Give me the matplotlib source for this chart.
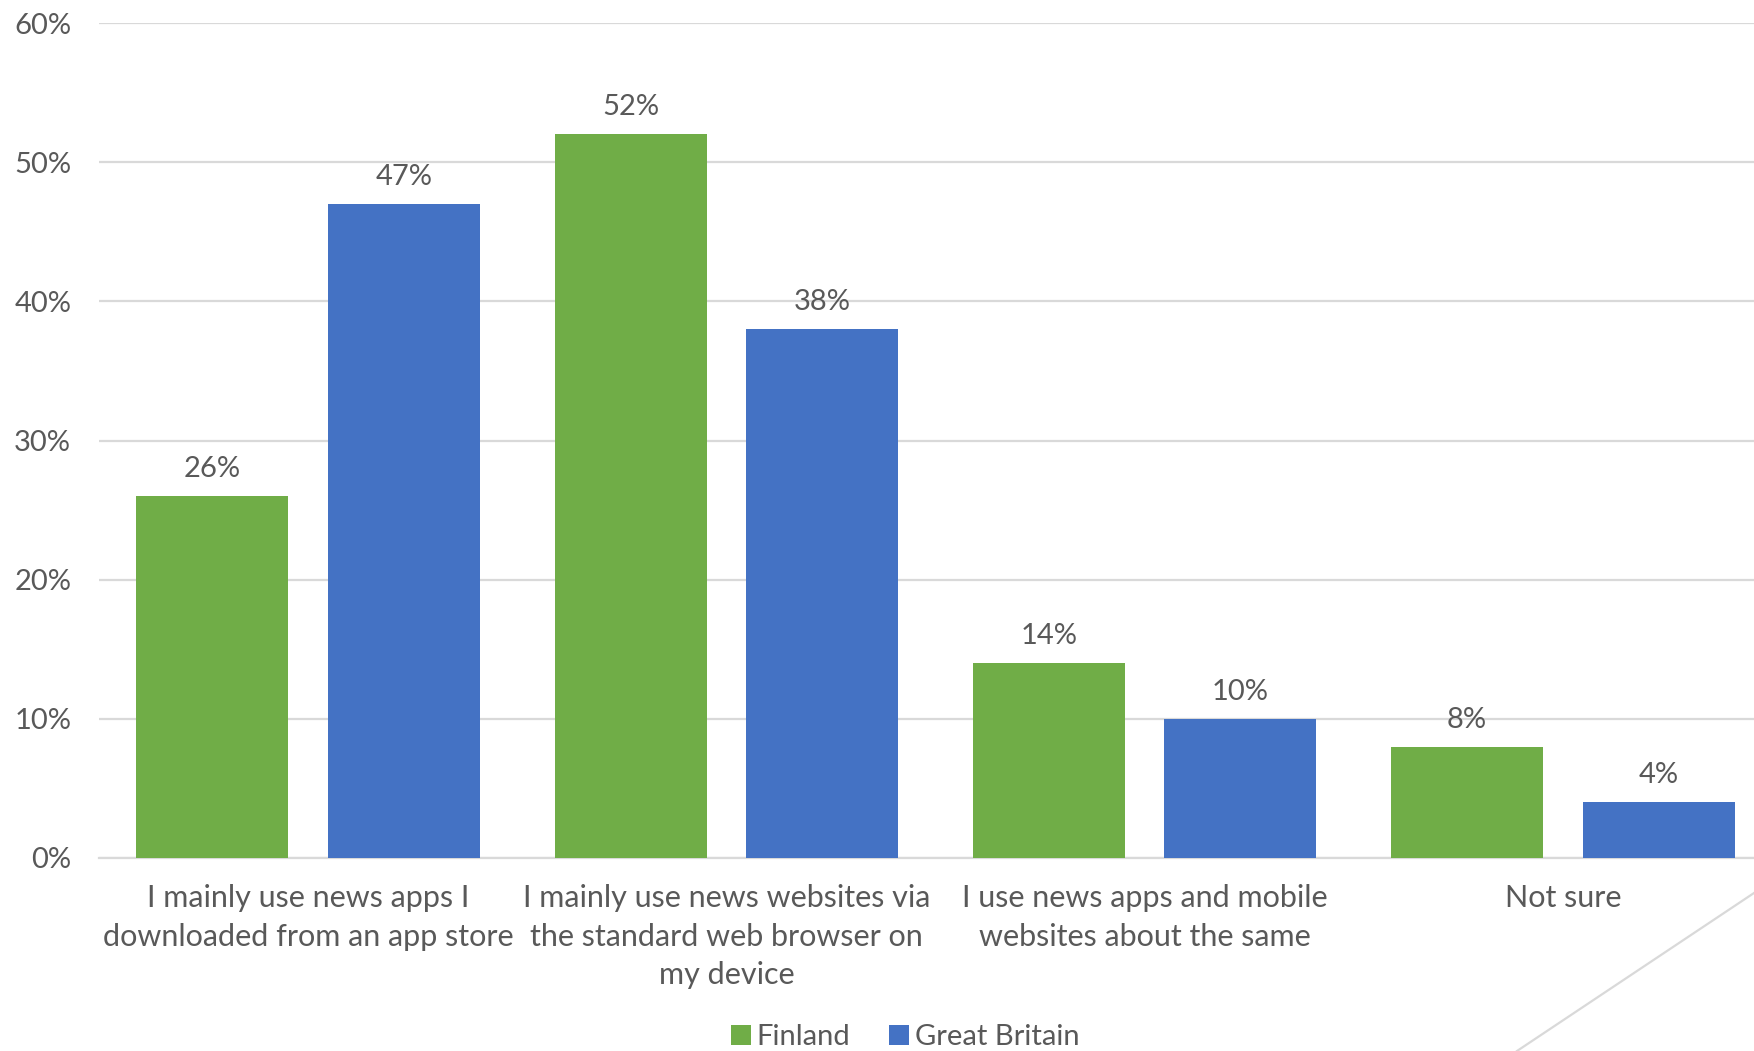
import matplotlib
matplotlib.use("Agg")
import matplotlib.pyplot as plt
from matplotlib.lines import Line2D
from matplotlib.patches import Patch
import numpy as np

categories = [
    "I mainly use news apps I\ndownloaded from an app store",
    "I mainly use news websites via\nthe standard web browser on\nmy device",
    "I use news apps and mobile\nwebsites about the same",
    "Not sure",
]
series_names = ["Finland", "Great Britain"]
finland = [26, 52, 14, 8]
great_britain = [47, 38, 10, 4]
y_ticks = [0, 10, 20, 30, 40, 50, 60]

GREEN = "#70AD47"
BLUE = "#4472C4"
TEXT = "#595959"
GRID = "#D9D9D9"

plt.rcParams["font.family"] = ["Lato", "DejaVu Sans"]

fig = plt.figure(figsize=(17.54, 10.51), dpi=100)
# plot area runs slightly past the right edge of the canvas
ax = fig.add_axes([99 / 1754, 1 - 858 / 1051, (1772 - 99) / 1754, (858 - 23) / 1051])

x = np.arange(len(categories))
width = 0.3636
offset = 0.229

bars_f = ax.bar(x - offset, finland, width, color=GREEN, label=series_names[0], zorder=3)
bars_g = ax.bar(x + offset, great_britain, width, color=BLUE, label=series_names[1], zorder=3)

for bars, vals in ((bars_f, finland), (bars_g, great_britain)):
    for b, v in zip(bars, vals):
        ax.annotate(f"{v}%", (b.get_x() + b.get_width() / 2, v),
                    xytext=(0, 10), textcoords="offset points",
                    ha="center", va="bottom", fontsize=21, color=TEXT)

ax.set_xlim(-0.5, len(categories) - 0.5)
ax.set_ylim(0, 60)
ax.set_yticks(y_ticks)
ax.set_yticklabels([f"{t}%" for t in y_ticks])
ax.set_xticks(x)
ax.set_xticklabels(categories, linespacing=1.45)

ax.tick_params(axis="y", length=0, pad=20, labelsize=21, labelcolor=TEXT)
ax.tick_params(axis="x", length=0, pad=19, labelsize=22, labelcolor=TEXT)

ax.grid(axis="y", color=GRID, linewidth=1.6, zorder=0)
for s in ("top", "right", "left"):
    ax.spines[s].set_visible(False)
ax.spines["bottom"].set_color(GRID)
ax.spines["bottom"].set_linewidth(1.6)
ax.set_facecolor("none")

handles = [Patch(facecolor=GREEN, label=series_names[0]),
           Patch(facecolor=BLUE, label=series_names[1])]
fig.legend(handles=handles, loc="center", bbox_to_anchor=(905 / 1754, 1 - 1037 / 1051),
           ncol=2, frameon=False, fontsize=21, labelcolor=TEXT,
           handlelength=0.7, handleheight=0.7, handletextpad=0.2, columnspacing=1.3)

# thin frame corner stroke at the lower right
fig.add_artist(Line2D([1517 / 1754, 1754 / 1754], [0, 1 - 893 / 1051],
                      transform=fig.transFigure, color=GRID, linewidth=1.6))

fig.savefig("out.png", dpi=100)
